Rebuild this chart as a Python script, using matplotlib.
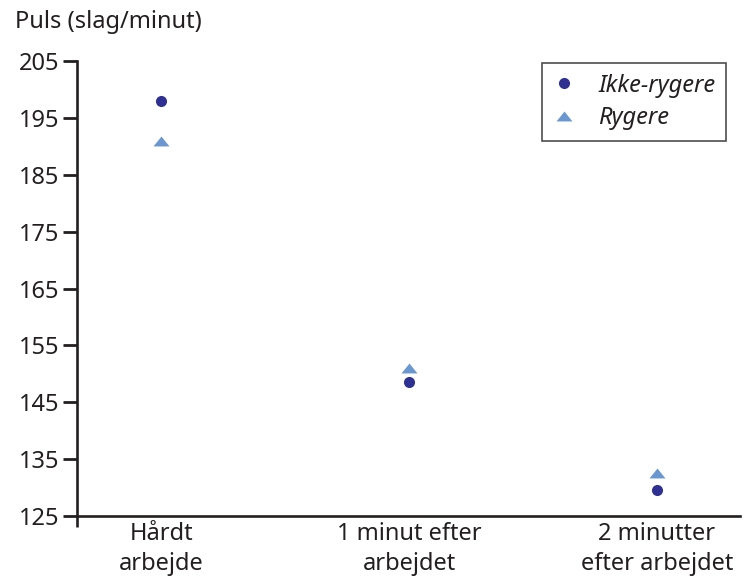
import matplotlib
matplotlib.use("Agg")
import matplotlib.pyplot as plt
from matplotlib.path import Path

categories = ["Hårdt\narbejde", "1 minut efter\narbejdet", "2 minutter\nefter arbejdet"]
ikke_rygere = [198, 148.5, 129.5]
rygere = [191, 151, 132.5]
yticks = [125, 135, 145, 155, 165, 175, 185, 195, 205]

plt.rcParams['font.family'] = ['Noto Sans', 'DejaVu Sans']

c_circ = '#2E3192'
c_tri = '#6A97D0'
txt = '#231F20'
tri = Path([(-1, -0.62), (1, -0.62), (0, 0.62), (-1, -0.62)],
           [Path.MOVETO, Path.LINETO, Path.LINETO, Path.CLOSEPOLY])

fig = plt.figure(figsize=(7.44, 5.78), dpi=100)
ax = fig.add_axes([77/744, 1-516/578, (740-77)/744, (516-61)/578])

x = list(range(len(categories)))
ax.plot(x, ikke_rygere, linestyle='none', marker='o', markersize=8,
        color=c_circ, markeredgewidth=0, label='Ikke-rygere')
ax.plot(x, rygere, linestyle='none', marker=tri, markersize=11.5,
        color=c_tri, markeredgewidth=0, label='Rygere')

fs = 17
ax.set_xlim(-0.34, 2.335)
ax.set_ylim(125, 205)
ax.set_yticks(yticks)
ax.set_xticks(x)
ax.set_xticklabels(categories, fontsize=fs, color=txt, linespacing=1.35)
ax.tick_params(axis='x', length=0, pad=4)
ax.tick_params(axis='y', length=10, width=2, labelsize=fs, labelcolor=txt,
               color=txt, pad=3)

for s in ['top', 'right']:
    ax.spines[s].set_visible(False)
for s in ['left', 'bottom']:
    ax.spines[s].set_linewidth(1.9)
    ax.spines[s].set_color(txt)
ax.plot([0, 0], [0, -11/455], transform=ax.transAxes, color=txt,
        linewidth=1.9, clip_on=False, solid_capstyle='butt')

fig.text(15/744, 1-22/578, "Puls (slag/minut)", fontsize=fs, color=txt,
         ha='left', va='center')

leg = ax.legend(loc='upper right', bbox_to_anchor=((726-77)/663, 1-(63-61)/455),
                borderaxespad=0, frameon=True, fancybox=False, edgecolor=txt,
                prop={'style': 'italic', 'size': fs}, handletextpad=0.95,
                borderpad=0.45, labelspacing=0.37, handlelength=1.0)
leg.get_frame().set_linewidth(1.2)
for t in leg.get_texts():
    t.set_color(txt)

fig.savefig("out.png", dpi=100)
